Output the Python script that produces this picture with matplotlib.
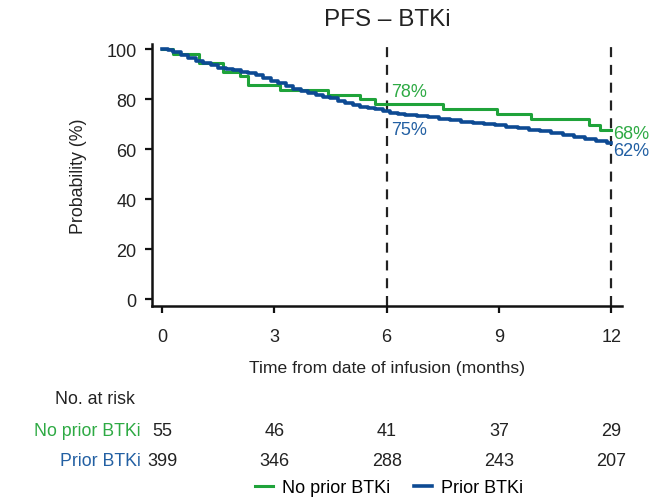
import matplotlib
matplotlib.use("Agg")
import matplotlib.pyplot as plt
import matplotlib.transforms as mtransforms

plt.rcParams['font.family'] = ['Liberation Sans', 'DejaVu Sans']

GREEN = '#1fa33a'
BLUE = '#0d4a93'
GREEN_TXT = '#2eaa44'
BLUE_TXT = '#2360a3'
INK = '#222222'

# No prior BTKi (KM steps)
t_noprior = [0, 0.29, 0.99, 1.63, 2.09, 2.30, 3.15, 4.44, 5.29, 5.69, 7.50, 8.95, 9.85, 11.41, 11.70, 12.0]
s_noprior = [100, 98.2, 94.5, 90.9, 89.1, 85.5, 83.6, 81.8, 80.0, 78.2, 76.2, 74.2, 72.0, 69.8, 67.6, 67.6]

# Prior BTKi (KM steps)
t_prior = [0.0, 0.15, 0.3, 0.5, 0.7, 0.9, 1.1, 1.3, 1.5, 1.7, 1.9, 2.1, 2.3, 2.5, 2.7, 2.9,
           3.1, 3.3, 3.5, 3.7, 3.9, 4.1, 4.3, 4.5, 4.7, 4.9, 5.1, 5.3, 5.5, 5.7, 5.9,
           6.1, 6.3, 6.5, 6.8, 7.1, 7.4, 7.7, 8.0, 8.3, 8.6, 8.9, 9.2, 9.5, 9.8,
           10.1, 10.4, 10.7, 11.0, 11.3, 11.6, 11.9, 12.0]
s_prior = [100, 99.5, 99.0, 97.8, 96.5, 95.3, 94.5, 93.5, 92.6, 92.0, 91.5, 91.0, 90.5, 89.5, 88.6, 87.4,
           86.3, 85.3, 84.2, 83.2, 82.3, 81.6, 81.0, 80.3, 79.3, 78.4, 77.5, 76.9, 76.4, 75.9, 75.3,
           74.4, 74.0, 73.6, 73.2, 72.8, 72.2, 71.6, 71.0, 70.5, 70.0, 69.5, 69.0, 68.5, 67.8,
           67.2, 66.4, 65.7, 65.0, 64.0, 63.3, 62.6, 62.3]

x_ticks = [0, 3, 6, 9, 12]
y_ticks = [0, 20, 40, 60, 80, 100]
risk_noprior = [55, 46, 41, 37, 29]
risk_prior = [399, 346, 288, 243, 207]
landmarks = [6, 12]

W, H = 672, 502
fig = plt.figure(figsize=(W / 100, H / 100), dpi=100)
ax = fig.add_axes([152 / W, 1 - 307 / H, (622 - 152) / W, (307 - 45) / H])

ax.step(t_noprior, s_noprior, where='post', color=GREEN, lw=2.2, label='No prior BTKi', zorder=3)
ax.step(t_prior, s_prior, where='post', color=BLUE, lw=2.6, label='Prior BTKi', zorder=4)

for lm in landmarks:
    ax.axvline(lm, color=INK, lw=1.6, ls=(0, (4.5, 3.5)), zorder=2)

ax.set_xlim(-0.27, 12.29)
ax.set_ylim(-2.6, 102.0)
ax.set_xticks(x_ticks)
ax.set_yticks(y_ticks)
for s in ['top', 'right']:
    ax.spines[s].set_visible(False)
for s in ['left', 'bottom']:
    ax.spines[s].set_linewidth(1.8)
    ax.spines[s].set_color('#111111')
ax.tick_params(direction='out', length=5, width=1.6, labelsize=13, colors='#111111',
               labelcolor=INK)
ax.tick_params(axis='y', pad=6)
ax.tick_params(axis='x', pad=11)

ax.set_xlabel('Time from date of infusion (months)', fontsize=12.6, labelpad=11, color=INK)
ax.set_ylabel('Probability (%)', fontsize=12.8, labelpad=14, color=INK)
ax.set_title('PFS – BTKi', fontsize=17.5, color=INK, pad=14)

ax.text(6.12, 83.0, '78%', color=GREEN_TXT, fontsize=13, va='center', ha='left')
ax.text(6.12, 67.8, '75%', color=BLUE_TXT, fontsize=13, va='center', ha='left')
ax.text(12.06, 66.4, '68%', color=GREEN_TXT, fontsize=13, va='center', ha='left', clip_on=False)
ax.text(12.06, 59.6, '62%', color=BLUE_TXT, fontsize=13, va='center', ha='left', clip_on=False)

# At-risk table
fig.text(55 / W, 1 - 400 / H, 'No. at risk', fontsize=12.8, color=INK, va='center', ha='left')
fig.text(141 / W, 1 - 432 / H, 'No prior BTKi', fontsize=12.8, color=GREEN_TXT, va='center', ha='right')
fig.text(141 / W, 1 - 462 / H, 'Prior BTKi', fontsize=12.8, color=BLUE_TXT, va='center', ha='right')
blend = mtransforms.blended_transform_factory(ax.transData, fig.transFigure)
for xv, a, b in zip(x_ticks, risk_noprior, risk_prior):
    fig.text(xv, 1 - 432 / H, str(a), fontsize=13, color=INK, va='center', ha='center', transform=blend)
    fig.text(xv, 1 - 462 / H, str(b), fontsize=13, color=INK, va='center', ha='center', transform=blend)

handles, labels = ax.get_legend_handles_labels()
fig.legend(handles, labels, loc='center', bbox_to_anchor=(389 / W, 1 - 489 / H), ncol=2,
           frameon=False, fontsize=13, handlelength=1.0, handletextpad=0.5, columnspacing=1.3)

fig.savefig('out.png', dpi=100)
